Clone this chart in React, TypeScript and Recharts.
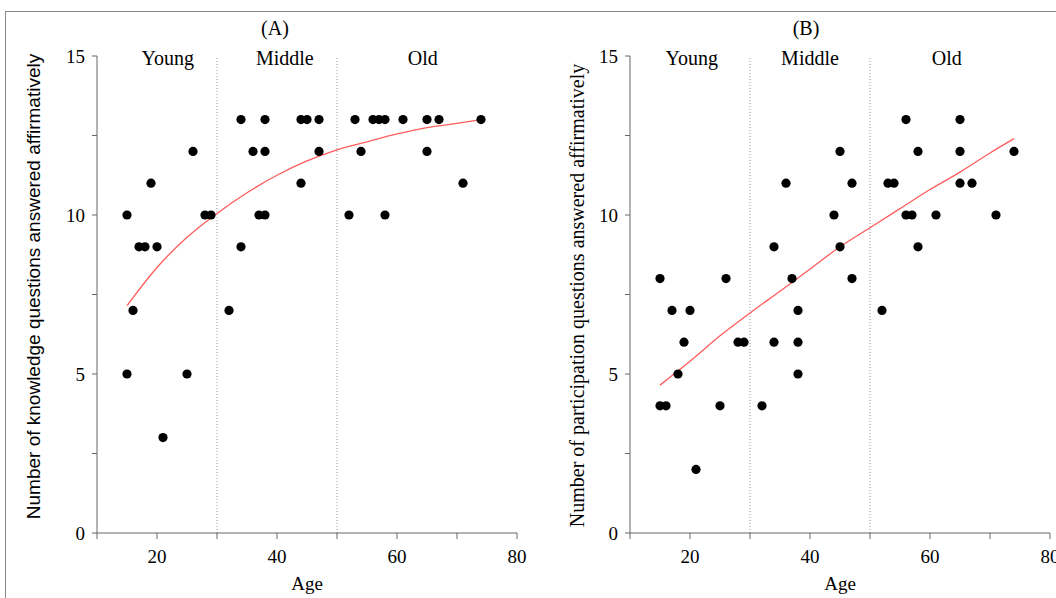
import React from 'react';
import {
  ComposedChart, Line, ReferenceDot, ReferenceLine, Scatter, XAxis, YAxis,
} from 'recharts';

// Panel A: knowledge questions
const agesA = [15, 15, 16, 17, 18, 19, 20, 21, 25, 26, 28, 29, 32, 34, 34, 36, 37, 38, 38, 38,
  44, 44, 45, 47, 47, 52, 53, 54, 56, 57, 58, 58, 61, 65, 65, 67, 71, 74];
const knowledge = [10, 5, 7, 9, 9, 11, 9, 3, 5, 12, 10, 10, 7, 13, 9, 12, 10, 13, 12, 10,
  11, 13, 13, 13, 12, 10, 13, 12, 13, 13, 13, 10, 13, 13, 12, 13, 11, 13];

// Panel B: participation questions
const agesB = [15, 15, 16, 17, 18, 19, 20, 21, 25, 26, 28, 29, 32, 34, 34, 36, 37, 38, 38, 38,
  44, 45, 45, 47, 47, 52, 53, 54, 56, 56, 57, 58, 58, 61, 65, 65, 65, 67, 71, 74];
const participation = [8, 4, 4, 7, 5, 6, 7, 2, 4, 8, 6, 6, 4, 9, 6, 11, 8, 7, 6, 5,
  10, 12, 9, 11, 8, 7, 11, 11, 13, 10, 10, 12, 9, 10, 13, 12, 11, 11, 10, 12];

// fitted trend lines
const fitAges = [15, 20, 25, 30, 35, 40, 45, 50, 55, 60, 65, 70, 74];
const fitKnowledge = [7.15, 8.35, 9.3, 10.05, 10.7, 11.25, 11.7, 12.05, 12.3, 12.55, 12.75, 12.88, 13.0];
const fitParticipation = [4.65, 5.4, 6.2, 6.92, 7.6, 8.3, 9.0, 9.6, 10.2, 10.8, 11.35, 11.95, 12.4];

const groups = ['Young', 'Middle', 'Old'];
const groupBreaks = [30, 50];
const xTicks = [10, 20, 30, 40, 50, 60, 70, 80];
const yTicks = [0, 2.5, 5, 7.5, 10, 12.5, 15];

const SERIF = '"Liberation Serif", "Times New Roman", serif';
const SANS = '"Liberation Sans", Arial, sans-serif';
const AXIS = '#666';

const zip = (xs: number[], ys: number[]) => xs.map((age, i) => ({ age, v: ys[i] }));

const Dot = (p: any) => <circle cx={p.cx} cy={p.cy} r={4.6} fill="#000" />;

function Panel({
  pts, fit, label, labelFont, labelSize, labelX, labelDy, groupAt, width, yWidth, right,
}: {
  pts: { age: number; v: number }[];
  fit: { age: number; v: number }[];
  label: string;
  labelFont: string;
  labelSize: number;
  labelX: number;
  labelDy: number;
  groupAt: number[];
  width: number;
  yWidth: number;
  right: number;
}) {
  const yLabel = (props: any) => {
    const vb = props.viewBox;
    if (!vb) return null;
    const cy = vb.y + vb.height / 2 + labelDy;
    return (
      <text
        x={labelX} y={cy} transform={`rotate(-90 ${labelX} ${cy})`}
        textAnchor="middle" dominantBaseline="central"
        fontFamily={labelFont} fontSize={labelSize} fill="#000"
      >
        {label}
      </text>
    );
  };

  return (
    <ComposedChart width={width} height={598} margin={{ top: 56, right, bottom: 0, left: 0 }}>
      <XAxis
        type="number" dataKey="age" domain={[10, 80]} ticks={xTicks} interval={0}
        tickFormatter={(v) => (v % 20 === 0 ? String(v) : '')}
        height={65} stroke={AXIS} tickSize={6} tickMargin={11}
        tick={{ fill: '#000', fontSize: 19, fontFamily: SERIF }}
        label={{ value: 'Age', position: 'insideTop', offset: 44, fill: '#000', fontSize: 19, fontFamily: SERIF }}
      />
      <YAxis
        type="number" domain={[0, 15]} ticks={yTicks} interval={0}
        tickFormatter={(v) => (v % 5 === 0 ? String(v) : '')}
        width={yWidth} stroke={AXIS} tickSize={5} tickMargin={7}
        tick={{ fill: '#000', fontSize: 19, fontFamily: SERIF }}
        label={yLabel}
      />
      {groupBreaks.map((b) => (
        <ReferenceLine key={b} x={b} stroke="#999" strokeDasharray="1 2" />
      ))}
      {groups.map((g, i) => (
        <ReferenceDot
          key={g} x={groupAt[i]} y={15} r={0} fill="none" stroke="none"
          label={{ value: g, position: 'center', dy: 2, fill: '#000', fontSize: 20, fontFamily: SERIF }}
        />
      ))}
      <Scatter data={pts} dataKey="v" shape={Dot} isAnimationActive={false} />
      <Line
        data={fit} dataKey="v" type="monotone" stroke="#ff5c5c" strokeWidth={1.3}
        dot={false} activeDot={false} isAnimationActive={false}
      />
    </ComposedChart>
  );
}

export default function App() {
  return (
    <div style={{ position: 'absolute', left: 0, top: 0, width: 1056, height: 598, background: '#fff', overflow: 'hidden' }}>
      <div style={{ position: 'absolute', left: 5, top: 11, right: 0, bottom: 0, borderTop: '1px solid #888', borderLeft: '1px solid #888' }} />
      <div style={{ position: 'absolute', left: 235, top: 16, width: 80, textAlign: 'center', fontFamily: SERIF, fontSize: 20, lineHeight: '24px' }}>(A)</div>
      <div style={{ position: 'absolute', left: 766, top: 16, width: 80, textAlign: 'center', fontFamily: SERIF, fontSize: 20, lineHeight: '24px' }}>(B)</div>
      <div style={{ position: 'absolute', left: 0, top: 0 }}>
        <Panel
          pts={zip(agesA, knowledge)} fit={zip(fitAges, fitKnowledge)}
          label="Number of knowledge questions answered affirmatively" labelFont={SANS} labelSize={19}
          labelX={33} labelDy={-8} groupAt={[21.8, 41.3, 64.3]} width={530} yWidth={97} right={13}
        />
      </div>
      <div style={{ position: 'absolute', left: 530, top: 0 }}>
        <Panel
          pts={zip(agesB, participation)} fit={zip(fitAges, fitParticipation)}
          label="Number of participation questions answered affirmatively" labelFont={SERIF} labelSize={20}
          labelX={47} labelDy={1} groupAt={[20.3, 40, 62.8]} width={526} yWidth={100} right={6}
        />
      </div>
    </div>
  );
}
